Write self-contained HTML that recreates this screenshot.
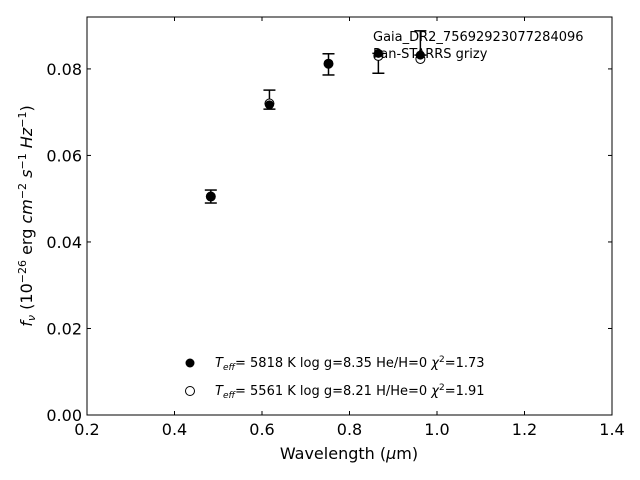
<!DOCTYPE html>
<html><head><meta charset="utf-8"><style>
body{margin:0;background:#fff}
svg{display:block;font-family:"DejaVu Sans","Liberation Sans",sans-serif}
</style></head><body>
<svg id="chart" width="640" height="480" xmlns="http://www.w3.org/2000/svg">
<rect width="640" height="480" fill="#fff"/>
<g id="axes"></g>
<g id="marks"></g>
<text x="373" y="41" font-size="13">Gaia_DR2_75692923077284096</text>
<text x="373" y="58" font-size="13">Pan-STARRS grizy</text>
<circle cx="190" cy="363" r="4.5" fill="#000"/>
<text x="215" y="367" font-size="13"><tspan font-style="italic">T</tspan><tspan font-style="italic" font-size="9" dy="3">eff</tspan><tspan dy="-3">=  5818 K  log g=8.35  He/H=0  </tspan><tspan font-style="italic">χ</tspan><tspan font-size="9" dy="-5">2</tspan><tspan dy="5">=1.73</tspan></text>
<circle cx="190" cy="391" r="4.5" fill="#fff" stroke="#000" stroke-width="1"/>
<text x="215" y="395" font-size="13"><tspan font-style="italic">T</tspan><tspan font-style="italic" font-size="9" dy="3">eff</tspan><tspan dy="-3">=  5561 K  log g=8.21  H/He=0  </tspan><tspan font-style="italic">χ</tspan><tspan font-size="9" dy="-5">2</tspan><tspan dy="5">=1.91</tspan></text>
<text x="349" y="459" font-size="16" text-anchor="middle">Wavelength (<tspan font-style="italic">μ</tspan>m)</text>
<text transform="translate(32,216) rotate(-90)" font-size="16" text-anchor="middle"><tspan font-style="italic">f</tspan><tspan font-style="italic" font-size="11" dy="3">ν</tspan><tspan dy="-3"> (10</tspan><tspan font-size="11" dy="-6">−26</tspan><tspan dy="6"> erg </tspan><tspan font-style="italic">cm</tspan><tspan font-size="11" dy="-6">−2</tspan><tspan dy="6"> </tspan><tspan font-style="italic">s</tspan><tspan font-size="11" dy="-6">−1</tspan><tspan dy="6"> </tspan><tspan font-style="italic">Hz</tspan><tspan font-size="11" dy="-6">−1</tspan><tspan dy="6">)</tspan></text>
</svg>
<script>
const wavelengths=[0.483,0.617,0.752,0.866,0.962];
const observedFlux=[0.0505,0.0717,0.0812,0.0836,0.0832];
const errLow=[0.0490,0.0707,0.0786,0.0790,0.0832];
const errHigh=[0.0520,0.0751,0.0835,0.0836,0.0888];
const modelFlux=[0.0505,0.0720,0.0812,0.0830,0.0823];
const xTicks=[0.2,0.4,0.6,0.8,1.0,1.2,1.4];
const yTicks=[0.00,0.02,0.04,0.06,0.08];
const X0=87,X1=612,Y0=415,Y1=17,xmin=0.2,xmax=1.4,ymin=0,ymax=0.092;
const sx=v=>X0+(v-xmin)/(xmax-xmin)*(X1-X0);
const sy=v=>Y0-(v-ymin)/(ymax-ymin)*(Y0-Y1);
const NS='http://www.w3.org/2000/svg';
function mk(tag,attrs,parent){const e=document.createElementNS(NS,tag);for(const k in attrs)e.setAttribute(k,attrs[k]);parent.appendChild(e);return e;}
const ax=document.getElementById('axes'),mg=document.getElementById('marks');
const frame=mk('rect',{x:X0,y:Y1,width:X1-X0,height:Y0-Y1,fill:'none',stroke:'#000','stroke-width':1},ax);


xTicks.forEach(t=>{const x=sx(t);
 const a=mk('line',{x1:x,x2:x,y1:Y0,y2:Y0-4,stroke:'#000'},ax);
 
 
 const b=mk('line',{x1:x,x2:x,y1:Y1,y2:Y1+4,stroke:'#000'},ax);
 
 
 const l=mk('text',{x:x,y:Y0+20,'font-size':16,'text-anchor':'middle'},ax);l.textContent=t.toFixed(1);
 
 });
yTicks.forEach(t=>{const y=sy(t);
 const a=mk('line',{x1:X0,x2:X0+4,y1:y,y2:y,stroke:'#000'},ax);
 
 
 const b=mk('line',{x1:X1,x2:X1-4,y1:y,y2:y,stroke:'#000'},ax);
 
 
 const l=mk('text',{x:X0-5,y:y+6,'font-size':16,'text-anchor':'end'},ax);l.textContent=t.toFixed(2);
 
 });
wavelengths.forEach((w,i)=>{const x=sx(w);
 const e=mk('g',{stroke:'#000','stroke-width':1.5},mg);
 
 
 mk('line',{x1:x,x2:x,y1:sy(errLow[i]),y2:sy(errHigh[i])},e);
 mk('line',{x1:x-6,x2:x+6,y1:sy(errLow[i]),y2:sy(errLow[i])},e);
 mk('line',{x1:x-6,x2:x+6,y1:sy(errHigh[i]),y2:sy(errHigh[i])},e);
 const o=mk('circle',{cx:x,cy:sy(modelFlux[i]),r:4.5,fill:'#fff',stroke:'#000','stroke-width':1},mg);
 
 
 const f=mk('circle',{cx:x,cy:sy(observedFlux[i]),r:4.5,fill:'#000'},mg);
 
 });
</script>
</body></html>
